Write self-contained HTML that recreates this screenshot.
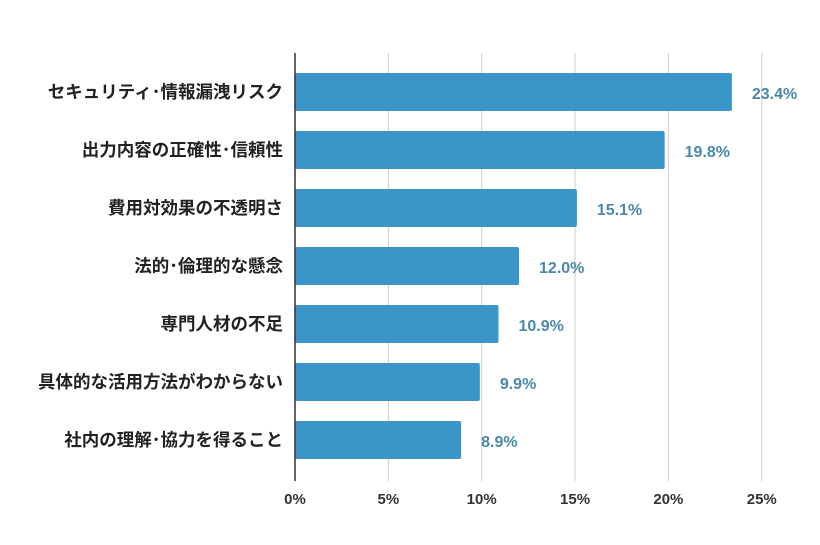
<!DOCTYPE html>
<html><head><meta charset="utf-8"><style>
body{margin:0;background:#fff;}
svg text{font-family:"Liberation Sans","Noto Sans CJK JP",sans-serif;font-weight:bold;}
</style></head><body>
<svg id="chart" width="820" height="540" xmlns="http://www.w3.org/2000/svg"></svg>
<script>
const categories=["セキュリティ･情報漏洩リスク","出力内容の正確性･信頼性","費用対効果の不透明さ","法的･倫理的な懸念","専門人材の不足","具体的な活用方法がわからない","社内の理解･協力を得ること"];
const values=[23.4,19.8,15.1,12.0,10.9,9.9,8.9];
const ticks=[0,5,10,15,20,25];
const tickLabels=["0%","5%","10%","15%","20%","25%"];
const NS="http://www.w3.org/2000/svg";
const svg=document.getElementById('chart');
const x0=295,scale=18.67,top0=73,step=58,barH=38,gTop=53,gBot=481;
function xs(v){return x0+v*scale;}
function yb(i){return top0+i*step;}
function mk(t,a){const e=document.createElementNS(NS,t);for(const k in a)e.setAttribute(k,a[k]);svg.appendChild(e);return e;}
ticks.forEach((t,i)=>{
  if(t>0){const l=mk('line',{x1:xs(t),x2:xs(t),y1:gTop,y2:gBot,stroke:'#cfcfcf','stroke-width':1});
  
  }
  const tx=mk('text',{x:xs(t),y:504,'text-anchor':'middle','font-size':15,fill:'#333'});
  tx.textContent=tickLabels[i];
  
  
});
values.forEach((v,i)=>{
  const r=mk('rect',{x:x0,y:yb(i),width:xs(v)-x0,height:barH,rx:2,fill:'#3a95c8'});
  
  
  const c=mk('text',{x:283,y:yb(i)+barH/2+6,'text-anchor':'end','font-size':17.5,fill:'#222'});
  c.textContent=categories[i];
  
  
  const vl=mk('text',{x:xs(v)+20,y:yb(i)+barH/2+7,'font-size':16,fill:'#4a8aa8'});
  vl.textContent=v.toFixed(1)+'%';
  
  
});
const ax=mk('line',{x1:x0,x2:x0,y1:gTop,y2:gBot,stroke:'#333','stroke-width':1.5});


</script>
</body></html>
